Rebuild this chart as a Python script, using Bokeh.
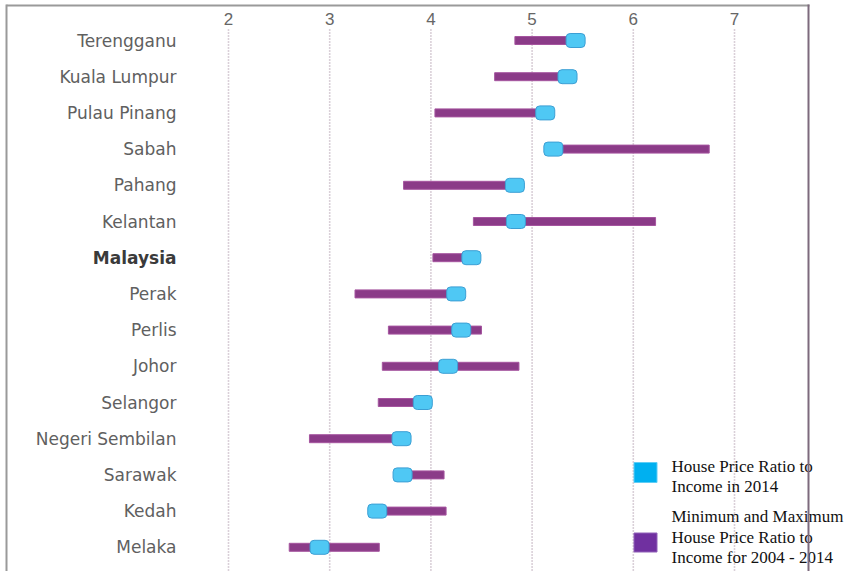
from bokeh.plotting import figure
from bokeh.models import Range1d, ColumnDataSource
from bokeh.core.properties import value
from bokeh.embed import file_html
from bokeh.resources import INLINE

# ---- data ----
regions = ["Terengganu", "Kuala Lumpur", "Pulau Pinang", "Sabah", "Pahang",
           "Kelantan", "Malaysia", "Perak", "Perlis", "Johor", "Selangor",
           "Negeri Sembilan", "Sarawak", "Kedah", "Melaka"]
ratio_2014 = [5.43, 5.35, 5.13, 5.21, 4.83, 4.84, 4.40, 4.25, 4.30, 4.17, 3.92, 3.71, 3.72, 3.47, 2.90]
ratio_min = [4.83, 4.63, 4.04, 5.15, 3.73, 4.42, 4.02, 3.25, 3.58, 3.52, 3.48, 2.80, 3.65, 3.40, 2.60]
ratio_max = [5.43, 5.35, 5.13, 6.75, 4.83, 6.22, 4.40, 4.25, 4.50, 4.87, 3.92, 3.71, 4.13, 4.15, 3.49]
ticks = [2, 3, 4, 5, 6, 7]
legend_cur = ["House Price Ratio to", "Income in 2014"]
legend_rng = ["Minimum and Maximum", "House Price Ratio to", "Income for 2004 - 2014"]

W, H = 851, 571
# layout helpers (pixel -> data)
X2PX, PXU = 228.0, 101.2
Y0PX, PXR = 40.0, 36.2
def dx(px):
    return 2 + (px - X2PX) / PXU
def dy(py):
    return (py - Y0PX) / PXR

p = figure(width=W, height=H, output_backend="svg", toolbar_location=None,
           x_range=Range1d(dx(0), dx(W)), y_range=Range1d(dy(H), dy(0)),
           x_axis_location=None, y_axis_location=None, min_border=0,
           outline_line_color=None, background_fill_color="white",
           border_fill_color="white")
p.grid.grid_line_color = None

rows = list(range(len(regions)))

# grid lines (dotted)
p.segment(x0=ticks, x1=ticks, y0=[dy(29)] * len(ticks), y1=[dy(H + 5)] * len(ticks),
          line_color="#b5a2b2", line_width=1.6, line_dash="1 2")

# tick labels on top
p.text(x=ticks, y=[dy(18)] * len(ticks), text=[str(t) for t in ticks],
       text_font=value("Liberation Sans"), text_font_size="17px",
       text_color="#666666", text_align="center", text_baseline="middle")

# category labels
styles = ["bold" if r == "Malaysia" else "normal" for r in regions]
colors = ["#3a3a3a" if r == "Malaysia" else "#606060" for r in regions]
p.text(x=[dx(176)] * len(regions), y=rows, text=regions,
       text_font=value("DejaVu Sans"), text_font_size="17px",
       text_font_style=styles, text_color=colors,
       text_align="right", text_baseline="middle")

# range bars
src = ColumnDataSource(dict(y=rows, lo=ratio_min, hi=ratio_max, cur=ratio_2014))
p.hbar(y="y", left="lo", right="hi", height=8 / PXR, source=src,
       fill_color="#8b3b88", line_color="#a5559f", line_width=1)

# 2014 markers (rounded)
p.rect(x="cur", y="y", width=19, height=14, width_units="screen", height_units="screen",
       source=src, fill_color="#4fc8f4", line_color="#3c9fd4", line_width=1,
       border_radius=4)

# legend swatches
p.rect(x=[dx(645)], y=[dy(472)], width=23, height=20, width_units="screen",
       height_units="screen", fill_color="#00b0f0", line_color="#5fcdf5", line_width=1)
p.rect(x=[dx(645)], y=[dy(542)], width=23, height=19, width_units="screen",
       height_units="screen", fill_color="#7030a0", line_color="#9060b8", line_width=1)

p.text(x=[dx(671)] * 2, y=[dy(466), dy(486)], text=legend_cur,
       text_font=value("Liberation Serif"), text_font_size="17px",
       text_color="#111111", text_align="left", text_baseline="middle")
p.text(x=[dx(671)] * 3, y=[dy(516), dy(537), dy(557)], text=legend_rng,
       text_font=value("Liberation Serif"), text_font_size="17px",
       text_color="#111111", text_align="left", text_baseline="middle")

# frame lines
p.line(x=[dx(6), dx(6)], y=[dy(4), dy(H + 5)], line_color="#9a9a9a", line_width=2)
p.line(x=[dx(6), dx(809)], y=[dy(5), dy(5)], line_color="#9a9a9a", line_width=2)
p.line(x=[dx(808), dx(808)], y=[dy(4), dy(H + 5)], line_color="#7d6a7d", line_width=2,
       level="overlay")

open("out.html", "w").write(file_html(p, INLINE))
